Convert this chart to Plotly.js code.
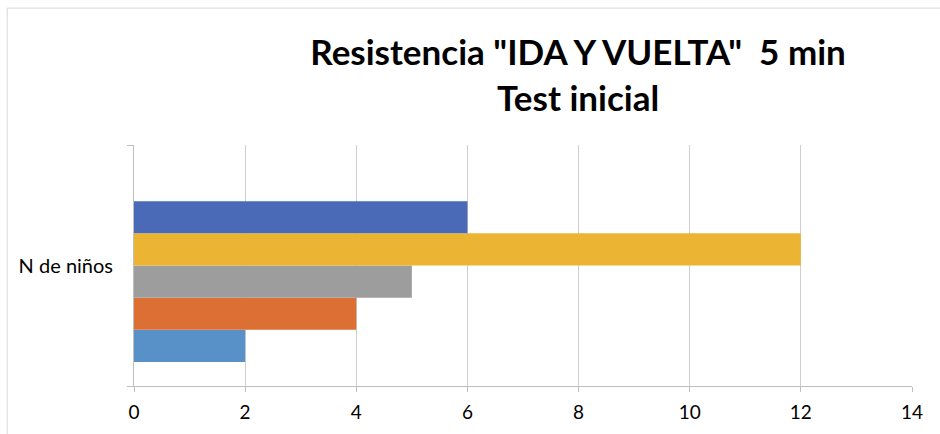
<!DOCTYPE html>
<html>
<head>
<meta charset="utf-8">
<script src="https://cdn.plot.ly/plotly-3.0.1.min.js"></script>
<style>
  html, body { margin: 0; padding: 0; background: #fff; }
  #chart { width: 940px; height: 434px; }
</style>
</head>
<body>
<div id="chart"></div>
<script>
// one category, six series (the last one is empty in the sheet)
const categories = ["N de niños"];
const seriesValues = [2, 4, 5, 12, 6, 0];
const seriesColors = ["#5890c8", "#dc7034", "#9d9d9d", "#ecb433", "#4a6ab8", "#ffffff"];
const xTicks = [0, 2, 4, 6, 8, 10, 12, 14];

const traces = seriesValues.map((v, i) => ({
    type: "bar",
    orientation: "h",
    y: categories,
    x: [v],
    marker: { color: seriesColors[i], line: { width: 0 } },
    hoverinfo: "x",
    showlegend: false,
}));

const layout = {
    width: 940,
    height: 434,
    margin: { t: 145, r: 28, b: 48, l: 134 },
    paper_bgcolor: "#ffffff",
    plot_bgcolor: "#ffffff",
    barmode: "group",
    bargap: 0.2,
    bargroupgap: 0,
    title: {
        text: "Resistencia \"IDA Y VUELTA\"  5 min<br>Test inicial",
        font: { family: "Lato", size: 35, color: "#000000", weight: "bold" },
        xref: "container",
        yref: "container",
        x: 0.615,
        xanchor: "center",
        y: 0.85,
        yanchor: "middle",
    },
    xaxis: {
        range: [0, 14],
        tickvals: xTicks,
        ticktext: xTicks.map(String),
        showgrid: true,
        gridcolor: "#cfcfcf",
        gridwidth: 1,
        zeroline: false,
        showline: true,
        linecolor: "#bfbfbf",
        linewidth: 1,
        ticks: "outside",
        ticklen: 5,
        tickcolor: "#bfbfbf",
        tickfont: { family: "Lato", size: 19, color: "#000000" },
        ticklabelstandoff: 4,
        fixedrange: true,
    },
    yaxis: {
        type: "category",
        tickson: "boundaries",
        ticks: "outside",
        ticklen: 6,
        tickcolor: "#bfbfbf",
        showline: true,
        linecolor: "#bfbfbf",
        linewidth: 1,
        showgrid: false,
        zeroline: false,
        tickfont: { family: "Lato", size: 20, color: "#000000" },
        ticklabelstandoff: 16,
        fixedrange: true,
    },
    shapes: [{
        type: "rect",
        xref: "paper",
        yref: "paper",
        x0: -0.163,
        x1: 1.2,
        y0: -0.4,
        y1: 1.568,
        line: { color: "#d9d9d9", width: 1 },
        fillcolor: "rgba(0,0,0,0)",
        layer: "below",
    }],
};

Plotly.newPlot("chart", traces, layout, { displayModeBar: false, staticPlot: true });
</script>
</body>
</html>
